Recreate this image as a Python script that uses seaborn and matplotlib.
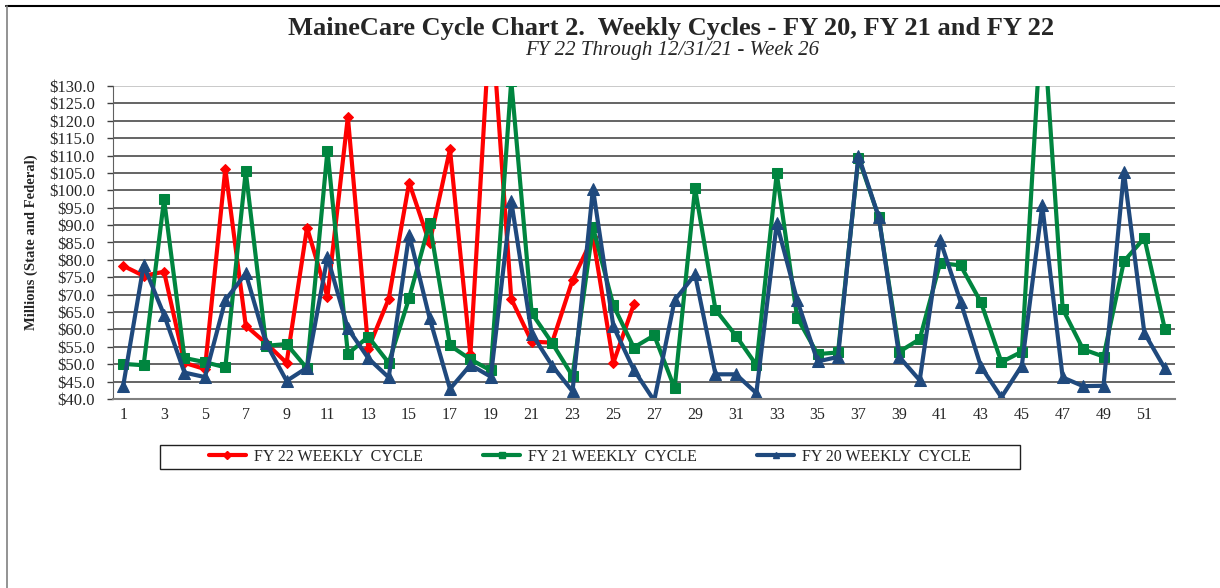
import numpy as np
import pandas as pd
import seaborn as sns
import matplotlib.pyplot as plt
from matplotlib.lines import Line2D
from matplotlib.patches import Rectangle
from matplotlib.ticker import FixedLocator, FuncFormatter

# weekly values, millions
weeks = list(range(1, 53))
fy22 = [78.3, 75.4, 76.6, 50.4, 48.6, 106.2, 61.1, 56.0, 50.4, 89.3, 69.4, 121.1, 54.5,
        68.8, 102.2, 84.8, 111.8, 52.8, 152.5, 68.8, 56.5, 56.2, 74.2, 86.5, 50.4, 67.2]
fy21 = [50.1, 49.7, 97.4, 51.8, 50.6, 49.1, 105.5, 55.3, 55.8, 48.8, 111.4, 53.0, 57.9,
        50.4, 69.0, 90.6, 55.4, 51.4, 48.2, 131.5, 64.7, 56.1, 46.6, 89.4, 66.9, 54.8,
        58.3, 43.1, 100.6, 65.7, 58.2, 49.8, 104.9, 63.4, 52.9, 53.4, 109.4, 92.2, 53.6,
        57.2, 79.1, 78.4, 67.8, 50.6, 53.6, 152.8, 65.9, 54.3, 52.2, 79.6, 86.3, 60.2]
fy20 = [43.8, 78.5, 64.2, 47.6, 46.3, 68.4, 76.1, 56.0, 45.2, 49.0, 80.8, 60.3, 51.7,
        46.2, 87.3, 63.3, 42.9, 49.8, 46.4, 96.9, 58.8, 49.6, 42.2, 100.5, 60.9, 48.4,
        39.5, 68.4, 75.8, 47.1, 47.1, 41.7, 90.5, 68.4, 50.8, 52.1, 110.0, 92.2, 52.1,
        45.4, 85.7, 68.0, 49.3, 40.5, 49.6, 95.7, 46.2, 43.7, 43.8, 105.3, 59.0, 48.8]
labels = ['FY 22 WEEKLY  CYCLE', 'FY 21 WEEKLY  CYCLE', 'FY 20 WEEKLY  CYCLE']
colors = ['#FF0000', '#00853F', '#1F497D']
markers = ['D', 's', '^']
msizes = [5.5, 7, 8.5]

sns.set_style('white')
plt.rcParams['font.family'] = ['Liberation Serif', 'DejaVu Serif']

fig = plt.figure(figsize=(12.2, 5.88), dpi=100)
ax = fig.add_axes([113/1220, 1 - 399/588, (1175-113)/1220, (399-86)/588])

series = [fy22, fy21, fy20]
for vals, col, mk, ms in zip(series, colors, markers, msizes):
    sns.lineplot(x=weeks[:len(vals)], y=vals, ax=ax, color=col, marker=mk,
                 markersize=ms, markeredgecolor=col, linewidth=3,
                 errorbar=None, legend=False)

ax.set_xlim(0.5, 52.5)
ax.set_ylim(40, 130)
ax.set_yticks(np.arange(40, 131, 5))
ax.yaxis.set_major_formatter(FuncFormatter(lambda v, p: '${:.1f}'.format(v)))
ax.set_xticks(range(1, 53, 2))
ax.set_xticklabels([str(w) for w in range(1, 53, 2)])
ax.xaxis.set_minor_locator(FixedLocator(np.arange(0.5, 53, 1)))
ax.tick_params(axis='x', which='major', length=0, labelsize=11.5, pad=6)
ax.tick_params(axis='x', which='minor', length=4, width=1, color='#404040', direction='out')
ax.tick_params(axis='y', which='major', length=4, width=1, color='#404040',
               direction='out', labelsize=12, pad=9, left=True)

ax.grid(axis='y', color='#3a3a3a', linewidth=1.1)
ax.set_axisbelow(True)
ax.get_ygridlines()[-1].set_color('#bbbbbb')
for s in ['top', 'right']:
    ax.spines[s].set_visible(False)
ax.spines['left'].set_color('#606060')
ax.spines['bottom'].set_color('#808080')
ax.spines['bottom'].set_linewidth(1.5)

ax.set_xlabel('')
ax.set_ylabel('Millions (State and Federal)', fontsize=10.5, fontweight='bold')
ax.yaxis.set_label_coords(-(113 - 38) / 1062, 0.5)

fig.text(671/1220, 1 - 28/588, 'MaineCare Cycle Chart 2.  Weekly Cycles - FY 20, FY 21 and FY 22',
         ha='center', va='center', fontsize=19, fontweight='bold')
fig.text(672/1220, 1 - 50/588, 'FY 22 Through 12/31/21 - Week 26',
         ha='center', va='center', fontsize=15, fontstyle='italic')

# legend box
fig.add_artist(Rectangle((160/1220, 1 - 469/588), 860/1220, 24/588, transform=fig.transFigure,
                         fill=False, edgecolor='#202020', linewidth=1))
handles = [Line2D([0], [0], color=c, marker=m, markersize=4, linewidth=3)
           for c, m in zip(colors, markers)]
fig.legend(handles, labels, loc='center', bbox_to_anchor=(590/1220, 1 - 457/588), ncol=3,
           frameon=False, fontsize=11.5, handlelength=2.3, handletextpad=0.5,
           columnspacing=3.8)

# outer frame
fig.add_artist(Line2D([6/1220, 1], [1 - 6/588, 1 - 6/588], transform=fig.transFigure,
                      color='black', linewidth=1.5))
fig.add_artist(Line2D([7/1220, 7/1220], [0, 1 - 6/588], transform=fig.transFigure,
                      color='#808080', linewidth=1.2))

fig.savefig('out.png', dpi=100)
